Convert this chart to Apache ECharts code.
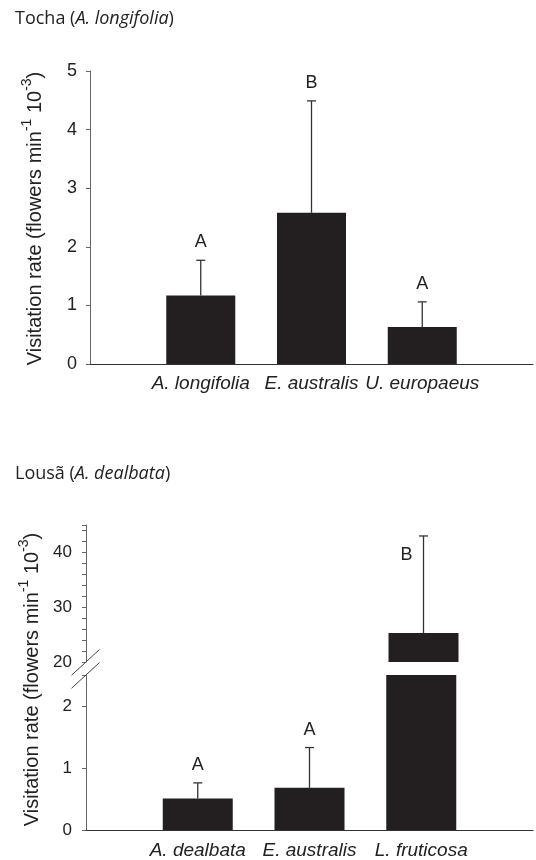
<!DOCTYPE html>
<html>
<head>
<meta charset="utf-8">
<script src="https://cdn.jsdelivr.net/npm/echarts@6/dist/echarts.min.js"></script>
<style>html,body{margin:0;padding:0;background:#fff}#c{width:536px;height:860px}</style>
</head>
<body>
<div id="c"></div>
<script>
// ---- data ----
const catsTop = ['A. longifolia', 'E. australis', 'U. europaeus'];
const meanTop = [1.17, 2.58, 0.63];
const errTop = [1.77, 4.49, 1.06];      // upper end of error bar
const lettersTop = ['A', 'B', 'A'];
const ticksTop = [0, 1, 2, 3, 4, 5];

const catsBottom = ['A. dealbata', 'E. australis', 'L. fruticosa'];
const meanBottom = [0.51, 0.68, 25.3];
const errBottom = [0.76, 1.33, 43.0];
const lettersBottom = ['A', 'A', 'B'];
const ticksBottomLow = [0, 1, 2];
const ticksBottomHigh = [20, 30, 40];

const titleTop = ['Tocha (', 'A. longifolia', ')'];
const titleBottom = ['Lousã (', 'A. dealbata', ')'];
const yTitle = ['Visitation rate (flowers min', '-1', ' 10', '-3', ')'];

// ---- helpers ----
const FONT = '"Liberation Sans", Arial, sans-serif';
const TFONT = '"Open Sans", "Noto Sans", sans-serif';
const BAR = '#231f20';
const lowMax = 2.5, highMin = 20, highMax = 45;

const pad = a => [''].concat(a).concat(['']);
const padV = a => ['-'].concat(a).concat(['-']);

function errSeries(xi, yi, means, errs, letters, keep, beside) {
  const data = [], lets = [];
  means.forEach((m, i) => {
    if (keep(m, errs[i])) { data.push([i + 1, m, errs[i]]); lets.push(letters[i]); }
  });
  return {
    type: 'custom', xAxisIndex: xi, yAxisIndex: yi, z: 5, clip: false,
    data: data,
    renderItem: function (params, api) {
      const i = api.value(0);
      const b = api.coord([i, Math.max(api.value(1), beside ? highMin : 0)]);
      const t = api.coord([i, api.value(2)]);
      const st = { stroke: '#333', lineWidth: 1.3 };
      return {
        type: 'group',
        children: [
          { type: 'line', shape: { x1: b[0], y1: b[1], x2: t[0], y2: t[1] }, style: st },
          { type: 'line', shape: { x1: t[0] - 4.5, y1: t[1], x2: t[0] + 4.5, y2: t[1] }, style: st },
          { type: 'text', x: beside ? t[0] - 17 : t[0], y: beside ? t[1] + 19 : t[1] - 18,
            style: { text: lets[params.dataIndex], fontSize: 18, fontFamily: FONT, fill: '#222',
                     align: 'center', verticalAlign: 'middle' } }
        ]
      };
    }
  };
}

const yLabel = (ticks) => ({
  fontSize: 17, fontFamily: FONT, color: '#222', margin: 14,
  formatter: v => (ticks.indexOf(v) >= 0 ? String(v) : '')
});
const yLine = { show: true, lineStyle: { color: '#666', width: 1 } };
const yTick = { show: true, length: 4, inside: false, lineStyle: { color: '#666', width: 1 } };
const xLabel = (m) => ({ fontSize: 19, fontStyle: 'italic', fontFamily: FONT, color: '#222', margin: m, interval: 0 });

const richTitle = {
  n: { fontSize: 18, fontFamily: TFONT, fontWeight: 'normal', color: '#222' },
  i: { fontSize: 18, fontFamily: TFONT, fontStyle: 'italic', fontWeight: 'normal', color: '#222' }
};
const richY = {
  n: { fontSize: 20, fontFamily: FONT, fill: '#222', lineHeight: 30 },
  s: { fontSize: 14, fontFamily: FONT, fill: '#222', lineHeight: 14, verticalAlign: 'top' }
};
const yTitleText = '{n|' + yTitle[0] + '}{s|' + yTitle[1] + '}{n|' + yTitle[2] + '}{s|' + yTitle[3] + '}{n|' + yTitle[4] + '}';

const chart = echarts.init(document.getElementById('c'), null, { renderer: 'canvas' });

const option = {
  animation: false,
  backgroundColor: '#fff',
  title: [
    { text: '{n|' + titleTop[0] + '}{i|' + titleTop[1] + '}{n|' + titleTop[2] + '}', left: 10, top: 5,
      textStyle: { fontWeight: 'normal', rich: richTitle } },
    { text: '{n|' + titleBottom[0] + '}{i|' + titleBottom[1] + '}{n|' + titleBottom[2] + '}', left: 10, top: 460,
      textStyle: { fontWeight: 'normal', rich: richTitle } }
  ],
  grid: [
    { left: 90, top: 71, width: 450, height: 293 },
    { left: 86, top: 525, width: 454, height: 137 },
    { left: 86, top: 675, width: 454, height: 155 }
  ],
  xAxis: [
    { gridIndex: 0, type: 'category', data: pad(catsTop), boundaryGap: false,
      axisTick: { show: false }, axisLine: { lineStyle: { color: '#333', width: 1.2 } }, axisLabel: xLabel(10) },
    { gridIndex: 1, type: 'category', data: pad(catsBottom), boundaryGap: false, show: false },
    { gridIndex: 2, type: 'category', data: pad(catsBottom), boundaryGap: false,
      axisTick: { show: false }, axisLine: { lineStyle: { color: '#333', width: 1.2 } }, axisLabel: xLabel(11) }
  ],
  yAxis: [
    { gridIndex: 0, type: 'value', min: 0, max: 5, interval: 1, axisLine: yLine, axisTick: yTick,
      splitLine: { show: false }, axisLabel: Object.assign(yLabel(ticksTop), { fontSize: 18, margin: 13 }) },
    { gridIndex: 1, type: 'value', min: highMin, max: highMax, interval: 2, axisLine: yLine, axisTick: yTick,
      splitLine: { show: false }, axisLabel: yLabel(ticksBottomHigh) },
    { gridIndex: 2, type: 'value', min: 0, max: lowMax, interval: 1, axisLine: yLine, axisTick: yTick,
      splitLine: { show: false }, axisLabel: yLabel(ticksBottomLow) }
  ],
  series: [
    { type: 'bar', xAxisIndex: 0, yAxisIndex: 0, data: padV(meanTop), barWidth: 69,
      itemStyle: { color: BAR }, clip: true },
    errSeries(0, 0, meanTop, errTop, lettersTop, () => true, false),
    { type: 'bar', xAxisIndex: 1, yAxisIndex: 1, data: padV(meanBottom.map(v => (v > lowMax ? v : '-'))),
      barWidth: 70, itemStyle: { color: BAR }, clip: true },
    errSeries(1, 1, meanBottom, errBottom, lettersBottom, (m) => m > lowMax, true),
    { type: 'bar', xAxisIndex: 2, yAxisIndex: 2, data: padV(meanBottom), barWidth: 70,
      itemStyle: { color: BAR }, clip: true },
    errSeries(2, 2, meanBottom, errBottom, lettersBottom, (m) => m <= lowMax, false)
  ]
};
chart.setOption(option);

// y-axis titles and axis break marks, positioned from the axes
const axTop = chart.convertToPixel({ xAxisIndex: 0 }, 0);
const axBot = chart.convertToPixel({ xAxisIndex: 2 }, 0);
const yT0 = chart.convertToPixel({ yAxisIndex: 0 }, 0);
const yT5 = chart.convertToPixel({ yAxisIndex: 0 }, 5);
const yHi = chart.convertToPixel({ yAxisIndex: 1 }, highMin);
const yHiTop = chart.convertToPixel({ yAxisIndex: 1 }, highMax);
const yLo = chart.convertToPixel({ yAxisIndex: 2 }, lowMax);
const yLo0 = chart.convertToPixel({ yAxisIndex: 2 }, 0);
const slash = (y) => ({ type: 'line', shape: { x1: axBot - 14.5, y1: y + 13.3, x2: axBot + 13.5, y2: y - 12.5 },
  style: { stroke: '#444', lineWidth: 1 }, z: 10 });

chart.setOption({
  graphic: [
    { type: 'text', x: axTop - 55, y: (yT0 + yT5) / 2 + 1, rotation: Math.PI / 2,
      style: { text: yTitleText, rich: richY, align: 'center', verticalAlign: 'middle' } },
    { type: 'text', x: axBot - 54, y: (yLo0 + yHiTop) / 2 + 2, rotation: Math.PI / 2,
      style: { text: yTitleText, rich: richY, align: 'center', verticalAlign: 'middle' } },
    slash(yHi),
    slash(yLo)
  ]
});
</script>
</body>
</html>
